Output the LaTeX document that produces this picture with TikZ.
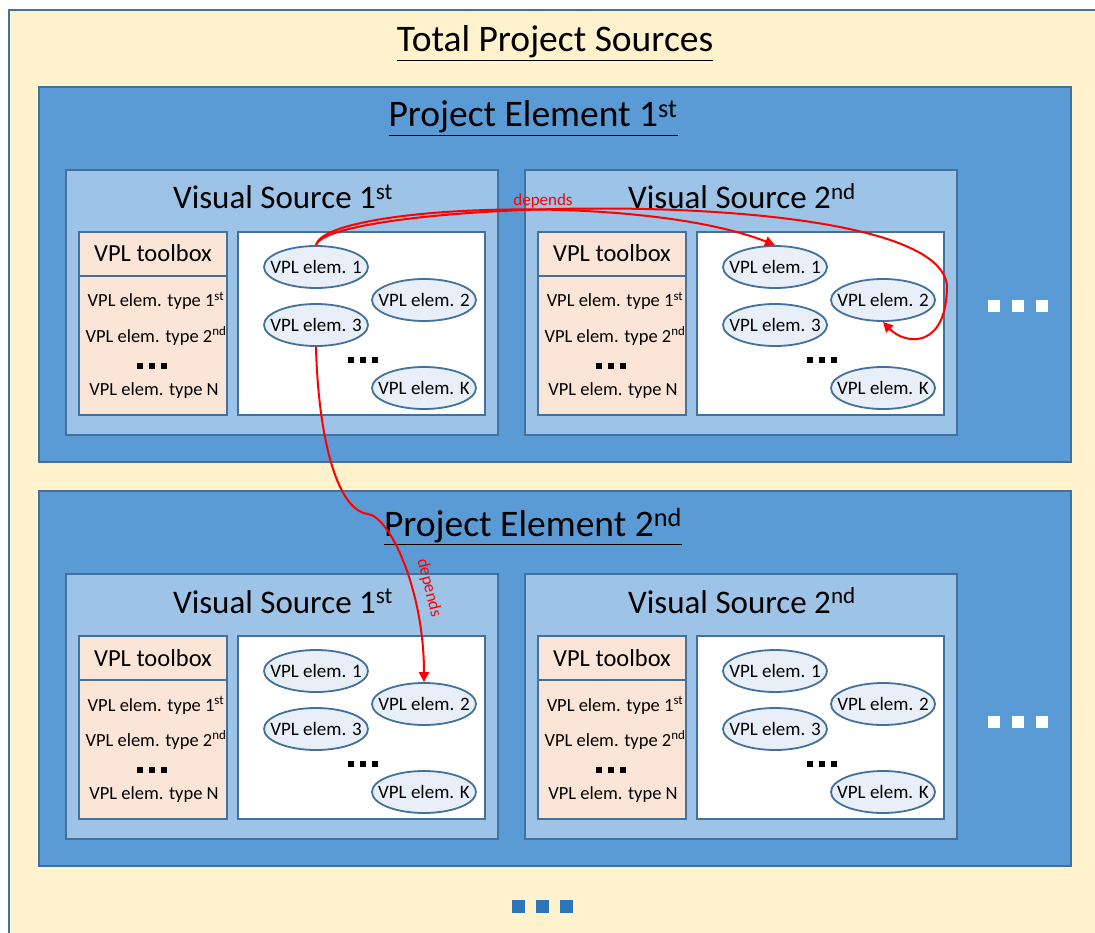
\documentclass[tikz,border=0pt]{standalone}
\usepackage{fontspec}
\setmainfont{Carlito}
\usetikzlibrary{arrows.meta,shapes.geometric}
\definecolor{outerfill}{HTML}{FFF2CC}
\definecolor{bordc}{HTML}{41719C}
\definecolor{pefill}{HTML}{5B9BD5}
\definecolor{vsfill}{HTML}{9DC3E6}
\definecolor{tbfill}{HTML}{FBE5D6}
\definecolor{ellfill}{HTML}{E8EFF8}
\definecolor{dotblue}{HTML}{2E75B6}
\definecolor{arrred}{HTML}{FF0000}
\begin{document}
\begin{tikzpicture}[x=1pt,y=-1pt,
  frame/.style={draw=bordc,line width=2pt,anchor=north west,inner sep=0pt,outer sep=0pt},
  elem/.style={ellipse,draw=bordc,line width=1.8pt,fill=ellfill,minimum width=104pt,minimum height=42pt,inner sep=0pt},
  elemtext/.style={inner sep=0pt,font=\fontsize{19}{22}\selectfont},
  vstitle/.style={anchor=base,font=\fontsize{33}{37}\selectfont},
  petitle/.style={anchor=base,font=\fontsize{37.5}{42}\selectfont},
  tbhead/.style={anchor=base,font=\fontsize{24.5}{28}\selectfont},
  tbline/.style={anchor=base,font=\fontsize{18.5}{21}\selectfont},
  dep/.style={-{Triangle[width=10pt,length=10pt]},draw=arrred,line width=2pt},
  deplabel/.style={text=arrred,font=\fontsize{17}{19}\selectfont,inner sep=0pt}
]
\clip (0,0) rectangle (1095,933);
\fill[white] (0,0) rectangle (1095,933);
% outer container
\node[frame,fill=outerfill,minimum width=1101pt,minimum height=940pt] (outer) at (9,10) {};
\node[petitle] (ttl) at (555,52) {\underline{Total Project Sources}};
% project elements
\node[frame,fill=pefill,minimum width=1032pt,minimum height=375pt] (pe1) at (39,87) {};
\node[frame,fill=pefill,minimum width=1032pt,minimum height=375pt] (pe2) at (39,491) {};
\node[petitle] (pe1t) at (533,127) {\underline{Project Element 1\textsuperscript{st}}};
\node[petitle] (pe2t) at (533,536) {\underline{Project Element 2\textsuperscript{nd}}};
% visual sources
\foreach \dx/\dy/\n/\vn/\vs in {0/0/a/1/st, 459/0/b/2/nd, 0/404/c/1/st, 459/404/d/2/nd}{
  \node[frame,fill=vsfill,minimum width=432pt,minimum height=265pt] (vs\n) at ({66+\dx},{170+\dy}) {};
  \node[vstitle] (vst\n) at ({283+\dx},{209+\dy}) {Visual Source \vn\textsuperscript{\vs}};
  \node[frame,fill=tbfill,minimum width=148pt,minimum height=44pt] (tbh\n) at ({79+\dx},{232+\dy}) {};
  \node[frame,fill=tbfill,minimum width=148pt,minimum height=139pt] (tbb\n) at ({79+\dx},{276+\dy}) {};
  \node[frame,fill=white,minimum width=247pt,minimum height=183pt] (cv\n) at ({238+\dx},{232+\dy}) {};
  \node[tbhead] (tbt\n) at ({153+\dx},{262+\dy}) {VPL toolbox};
  \node[tbline] (ty1\n) at ({156+\dx},{307+\dy}) {VPL elem. type 1\textsuperscript{st}};
  \node[tbline] (ty2\n) at ({156+\dx},{342+\dy}) {VPL elem. type 2\textsuperscript{nd}};
  \node[tbline] (tyN\n) at ({154+\dx},{395+\dy}) {VPL elem. type N};
  \foreach \k in {0,1,2}{
    \fill[black] ({137+12*\k+\dx},{363+\dy}) rectangle ++(6,6);
    \fill[black] ({348+12*\k+\dx},{357+\dy}) rectangle ++(6,6);
  }
  \node[elem] (e1\n) at ({316+\dx},{267+\dy}) {};
  \node[elem] (e2\n) at ({424+\dx},{300+\dy}) {};
  \node[elem] (e3\n) at ({316+\dx},{325+\dy}) {};
  \node[elem] (eK\n) at ({424+\dx},{388+\dy}) {};
  \node[elemtext] (e1t\n) at (e1\n) {VPL elem. 1};
  \node[elemtext] (e2t\n) at (e2\n) {VPL elem. 2};
  \node[elemtext] (e3t\n) at (e3\n) {VPL elem. 3};
  \node[elemtext] (eKt\n) at (eK\n) {VPL elem. K};
}
% continuation dots
\foreach \k in {0,1,2}{
  \fill[white] ({988+24*\k},300) rectangle ++(12,12);
  \fill[white] ({988+24*\k},716) rectangle ++(12,12);
  \fill[dotblue] ({512+24*\k},900) rectangle ++(13,13);
}
% dependencies
\draw[dep] (e1a.north) .. controls (325,205) and (640,192) .. (e1b.north);
\draw[dep] (e1a.north) .. controls (330,200) and (935,180) .. (947,285)
  .. controls (947,350) and (905,345) .. (e2b.south);
\draw[dep] (e3a.south) .. controls (318,430) and (335,510) .. (368,514)
  .. controls (390,517) and (424,590) .. (e2c.north);
\node[deplabel] (dl1) at (543,201) {depends};
\node[deplabel,rotate=-76] (dl2) at (429,588) {depends};
\end{tikzpicture}
\end{document}
